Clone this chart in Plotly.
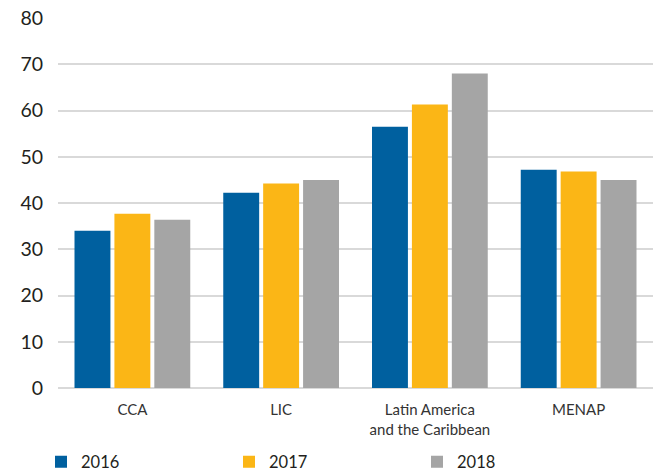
import plotly.graph_objects as go

categories = ["CCA", "LIC", "Latin America<br>and the Caribbean", "MENAP"]
years = ["2016", "2017", "2018"]
values_2016 = [34.0, 42.2, 56.5, 47.2]
values_2017 = [37.7, 44.2, 61.3, 46.8]
values_2018 = [36.4, 45.0, 68.0, 45.0]
colors = ["#00609F", "#FBB616", "#A5A5A5"]
y_ticks = [0, 10, 20, 30, 40, 50, 60, 70, 80]

fig = go.Figure()
for name, vals, col in zip(years, [values_2016, values_2017, values_2018], colors):
    fig.add_trace(go.Bar(x=categories, y=vals, name=name, marker=dict(color=col, line=dict(width=0))))

fig.update_layout(
    width=654, height=473,
    margin=dict(l=57.5, r=0.5, t=18.3, b=84.7),
    plot_bgcolor="white", paper_bgcolor="white",
    barmode="group", bargap=0.195, bargroupgap=0.1,
    font=dict(family="Lato", color="#231F20"),
    showlegend=True,
    legend=dict(orientation="h", x=41 / 654, xref="container", xanchor="left",
                y=1 - 462 / 473, yref="container", yanchor="middle",
                entrywidth=143, entrywidthmode="pixels",
                font=dict(size=16.5, color="#231F20"), traceorder="normal",
                bgcolor="rgba(0,0,0,0)"),
)
fig.update_yaxes(range=[0, 80], tickvals=y_ticks, showgrid=True, gridcolor="#D9D9D9", gridwidth=2,
                 zeroline=True, zerolinecolor="#D9D9D9", zerolinewidth=2,
                 showline=False, ticks="", tickfont=dict(size=19.5, color="#231F20"),
                 ticklabelstandoff=14)
fig.update_xaxes(showline=False, ticks="", tickfont=dict(size=15, color="#333333"),
                 ticklabelstandoff=11)

fig.write_html("out.html")
